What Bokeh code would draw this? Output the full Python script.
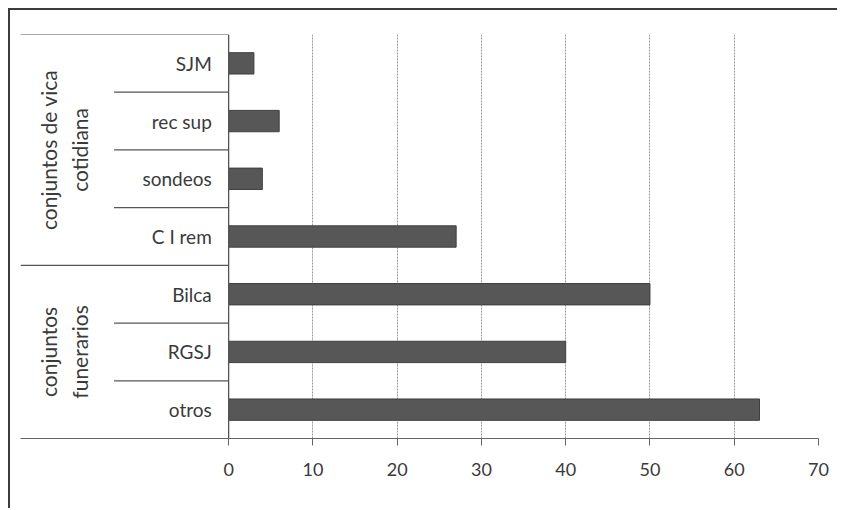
import numpy as np
from bokeh.plotting import figure
from bokeh.models import Range1d, FixedTicker, ColumnDataSource
from bokeh.core.properties import value
from bokeh.embed import file_html
from bokeh.resources import INLINE

# data (bottom to top)
categories = ["otros", "RGSJ", "Bilca", "C I rem", "sondeos", "rec sup", "SJM"]
values = [63, 40, 50, 27, 4, 6, 3]
group_labels = ["conjuntos\nfunerarios", "conjuntos de vica\ncotidiana"]
group_sizes = [3, 4]
x_ticks = [0, 10, 20, 30, 40, 50, 60, 70]

FONT = "Lato"
TXT = "#3a3a3a"

n = len(categories)
ypos = np.arange(n)
x_left = -24.7

p = figure(width=829, height=500, output_backend="svg", toolbar_location=None,
           x_range=Range1d(x_left, 70), y_range=Range1d(-0.5, n - 0.5),
           y_axis_location=None, min_border_left=10, min_border_right=21,
           min_border_top=24, min_border_bottom=72,
           styles={"border-top": "2px solid #3c3c3c", "border-left": "2px solid #3c3c3c",
                   "margin-top": "8px", "margin-left": "8px"})
p.outline_line_color = None
p.background_fill_color = "white"

# x axis
p.xaxis.ticker = FixedTicker(ticks=x_ticks)
p.xaxis.axis_line_color = "#666666"
p.xaxis.axis_line_width = 1.2
p.xaxis.major_tick_line_color = "#666666"
p.xaxis.major_tick_in = 0
p.xaxis.major_tick_out = 7
p.xaxis.minor_tick_line_color = None
p.xaxis.major_label_text_font = FONT
p.xaxis.major_label_text_font_size = "18px"
p.xaxis.major_label_text_color = TXT
p.xaxis.major_label_standoff = 17

p.xgrid.ticker = FixedTicker(ticks=x_ticks[1:])
p.xgrid.grid_line_color = "#999999"
p.xgrid.grid_line_dash = "2 1"
p.xgrid.grid_line_width = 1
p.ygrid.grid_line_color = None

# bars
src = ColumnDataSource(dict(y=ypos, v=values, cat=categories))
p.hbar(y="y", left=0, right="v", height=0.37, source=src,
       fill_color="#575757", line_color="#3f3f3f", line_width=1)

# vertical category axis line
p.segment(x0=[0], y0=[-0.5], x1=[0], y1=[n - 0.5], line_color="#555555", line_width=1.3)
p.segment(x0=[0], y0=[-0.5], x1=[0], y1=[-0.5 - 0.12], line_color="#555555", line_width=1.3)

# category labels
p.text(x=-2.0, y="y", text="cat", source=src, text_align="right", text_baseline="middle",
       text_font=value(FONT), text_font_size="19px", text_color=TXT)

# separators
bounds = np.concatenate([[-0.5], np.cumsum(group_sizes) - 0.5])
sub_y = [y + 0.5 for y in range(n - 1) if (y + 0.5) not in bounds]
p.segment(x0=[-13.6] * len(sub_y), y0=sub_y, x1=[0] * len(sub_y), y1=sub_y,
          line_color="#555555", line_width=1.2)
gb = list(bounds[1:])
p.segment(x0=[x_left] * len(gb), y0=gb, x1=[0] * len(gb), y1=gb,
          line_color="#555555", line_width=1.2)

# group labels
gc = [(bounds[i] + bounds[i + 1]) / 2 for i in range(len(group_sizes))]
p.text(x=[-19.5] * len(gc), y=gc, text=group_labels, angle=np.pi / 2,
       text_align="center", text_baseline="middle", text_line_height=1.25,
       text_font=value(FONT), text_font_size="21px", text_color=TXT)

open("out.html", "w").write(file_html(p, INLINE))
